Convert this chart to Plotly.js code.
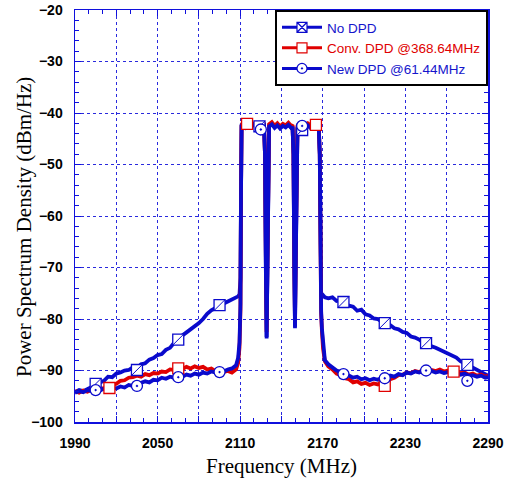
<!DOCTYPE html>
<html><head><meta charset="utf-8">
<script src="https://cdn.plot.ly/plotly-3.0.1.min.js"></script>
<style>html,body{margin:0;padding:0;background:#fff}</style>
</head><body><div id="chart" style="width:508px;height:480px"></div>
<script>
const freq = [1990,1993,1996,1999,2002,2005,2008,2011,2014,2017,2020,2023,2026,2029,2032,2035,2038,2041,2044,2047,2050,2053,2056,2059,2062,2065,2068,2071,2074,2077,2080,2083,2086,2089,2092,2095,2098,2101,2104,2107,
  2108.5,2109.5,2110.2,2110.6,2111,
  2112,2114,2116,2118,2120,2122,2124,2126,2127.3,
  2128.0,2128.7,2129.2,2129.8,2130.4,
  2131,2133,2135,2137,2139,2141,2143,2145,2147,2148.0,
  2148.7,2149.3,2149.8,2150.4,2151.0,
  2151.6,2153,2155,2157,2159,2161,2163,2165,2167,
  2167.8,2168.3,2168.8,2169.4,2170.2,2171.5,
  2174,2177,2180,2183,2186,2189,2192,2195,2198,2201,2204,2207,2210,2213,2216,2219,2222,2225,2228,2231,2234,2237,2240,2243,2246,2249,2252,2255,2258,2261,2264,2267,2270,2273,2276,2279,2282,2285,2288,2290];

const psdNoDPD = [-94.2,-93.8,-94.0,-93.5,-93.2,-93.0,-92.3,-92.0,-91.2,-91.3,-90.6,-90.4,-90.0,-89.9,-89.4,-89.6,-88.8,-88.6,-87.9,-87.6,-87.0,-86.8,-86.0,-85.6,-84.6,-84.2,-83.2,-82.6,-82.0,-81.5,-80.8,-80.0,-79.0,-78.3,-77.8,-77.4,-77.0,-76.6,-76.2,-75.8,
  -75.6,-75.2,-72,-55,-42.3,
  -42.0,-42.6,-41.8,-42.4,-42.1,-42.8,-42.3,-42.7,-42.5,
  -48,-72,-83.5,-70,-47,
  -42.4,-42.0,-42.7,-42.2,-42.9,-42.3,-42.6,-42.1,-42.8,-42.5,
  -48,-70,-81.5,-68,-47,
  -42.8,-42.3,-43.0,-42.5,-42.2,-42.7,-42.4,-42.6,-42.3,
  -48,-74.5,-75.3,-75.6,-75.4,-75.8,
  -76.0,-75.8,-76.5,-76.3,-77.0,-77.4,-77.6,-78.4,-78.2,-79.1,-79.3,-79.9,-80.0,-80.6,-80.9,-81.2,-81.8,-82.0,-82.5,-82.7,-83.4,-83.6,-84.0,-84.6,-84.5,-85.3,-85.6,-86.0,-86.4,-86.8,-87.3,-87.5,-88.2,-88.6,-89.0,-89.5,-89.8,-90.3,-90.6,-91.0];

const psdConvDPD = [-94.0,-94.3,-93.9,-94.1,-93.7,-93.8,-93.4,-93.5,-93.1,-92.8,-92.6,-92.0,-91.9,-91.4,-91.3,-91.0,-91.2,-90.7,-90.9,-90.5,-90.6,-90.2,-90.3,-89.8,-89.9,-89.5,-89.7,-89.3,-89.6,-89.2,-89.5,-89.3,-89.8,-89.6,-90.1,-89.8,-90.3,-90.1,-90.4,-89.8,
  -88.5,-85.5,-78,-55,-42.5,
  -41.8,-42.3,-42.0,-42.5,-42.2,-42.6,-42.0,-42.4,-42.3,
  -48,-70,-82.5,-68,-47,
  -42.2,-41.8,-42.5,-42.0,-42.6,-42.1,-42.4,-41.9,-42.5,-42.3,
  -48,-68,-80.5,-66,-47,
  -42.5,-42.1,-42.7,-42.3,-42.0,-42.4,-42.1,-42.3,-41.9,
  -48,-73,-79,-82.5,-85.8,-88.2,
  -89.2,-89.8,-90.6,-90.9,-91.5,-91.7,-92.3,-92.1,-92.6,-92.4,-92.8,-92.5,-92.7,-92.3,-92.2,-91.7,-91.4,-90.9,-90.8,-90.4,-90.5,-90.1,-90.3,-89.9,-90.2,-89.9,-90.1,-89.8,-90.2,-90.0,-90.3,-90.1,-90.5,-90.4,-90.8,-90.6,-91.0,-90.8,-91.2,-91.0];

const psdNewDPD = [-94.3,-94.0,-94.2,-93.8,-94.0,-93.6,-93.9,-93.5,-93.7,-93.3,-93.5,-93.1,-93.3,-92.8,-93.0,-92.6,-92.4,-92.1,-92.3,-91.8,-91.9,-91.4,-91.6,-91.2,-91.4,-91.0,-91.2,-90.8,-91.0,-90.6,-90.8,-90.4,-90.6,-90.2,-90.4,-90.0,-90.2,-89.8,-89.6,-89.0,
  -87.5,-84.5,-77,-55,-42.5,
  -42.2,-42.8,-42.1,-42.6,-42.3,-42.9,-42.4,-42.8,-42.6,
  -48,-72,-83.8,-70,-47,
  -42.6,-42.2,-42.9,-42.4,-43.0,-42.5,-42.8,-42.3,-42.9,-42.7,
  -48,-70,-81.8,-68,-47,
  -43.0,-42.5,-43.2,-42.7,-42.4,-42.9,-42.6,-42.8,-42.5,
  -48,-73,-78.5,-82,-85.4,-88.0,
  -88.8,-89.5,-90.0,-90.3,-90.8,-91.0,-91.4,-91.2,-91.7,-91.5,-91.9,-91.6,-91.8,-91.4,-91.5,-91.0,-91.2,-90.7,-90.9,-90.4,-90.6,-90.2,-90.4,-90.0,-90.3,-90.1,-90.4,-90.2,-90.5,-90.3,-90.6,-90.4,-90.8,-90.6,-91.0,-90.9,-91.2,-91.0,-91.4,-91.3];

// marker positions
const mkFreqNoDPD = [2005,2035,2065,2095,2124,2155,2185,2215,2245,2275];
const mkNoDPD     = [-92.6,-89.9,-84.0,-77.3,-42.6,-43.3,-76.7,-80.8,-84.7,-88.9];
const mkFreqConv  = [2015,2065,2115,2165,2215,2265];
const mkConv      = [-93.4,-89.6,-42.1,-42.3,-93.0,-90.2];
const mkFreqNew   = [2005,2035,2065,2095,2125,2155,2185,2215,2245,2275];
const mkNew       = [-93.8,-93.0,-91.3,-90.3,-43.2,-42.5,-90.7,-91.5,-90.0,-92.0];

const names = ['No DPD','<span style="color:#E00000">Conv. DPD @368.64MHz</span>','New DPD @61.44MHz'];
const xTicks = [1990,2020,2050,2080,2110,2140,2170,2200,2230,2260,2290];
const xTickText = ['1990','','2050','','2110','','2170','','2230','','2290'];
const yTitle = 'Power Spectrum Density (dBm/Hz)';
const xTitle = 'Frequency (MHz)';

const BLUE = '#0A0ACC', RED = '#E00000';

const traces = [
  {x: freq, y: psdNoDPD, mode:'lines', line:{color:BLUE, width:3.8}, showlegend:false, hoverinfo:'skip'},
  {x: freq, y: psdConvDPD, mode:'lines', line:{color:RED, width:3.8}, showlegend:false, hoverinfo:'skip'},
  {x: freq, y: psdNewDPD, mode:'lines', line:{color:BLUE, width:3.8}, showlegend:false, hoverinfo:'skip'},
  {x: mkFreqNoDPD, y: mkNoDPD, mode:'markers', showlegend:false,
   marker:{symbol:'square', size:11, color:'#fff', line:{color:BLUE, width:1.3}}},
  {x: mkFreqNoDPD, y: mkNoDPD, mode:'markers', showlegend:false,
   marker:{symbol:'line-ne', size:11, color:BLUE, line:{color:BLUE, width:1}}},
  {x: mkFreqConv, y: mkConv, mode:'markers', showlegend:false,
   marker:{symbol:'square', size:11, color:'#fff', line:{color:RED, width:1.3}}},
  {x: mkFreqNew, y: mkNew, mode:'markers', showlegend:false,
   marker:{symbol:'circle-dot', size:11, color:'#fff', line:{color:BLUE, width:1.3}}},
  // legend entries
  {x:[null], y:[null], name:names[0], mode:'lines+markers', line:{color:BLUE, width:3},
   marker:{symbol:'square-x', size:10, color:'#fff', line:{color:BLUE, width:1.2}}},
  {x:[null], y:[null], name:names[1], mode:'lines+markers', line:{color:RED, width:3},
   marker:{symbol:'square', size:10, color:'#fff', line:{color:RED, width:1.2}}},
  {x:[null], y:[null], name:names[2], mode:'lines+markers', line:{color:BLUE, width:3},
   marker:{symbol:'circle-dot', size:10, color:'#fff', line:{color:BLUE, width:1.2}}}
];

const axisCommon = {
  showline:true, linecolor:'#1010DD', linewidth:1.5, mirror:'ticks',
  ticks:'inside', ticklen:6, tickcolor:'#1010DD', tickwidth:1,
  showgrid:true, gridcolor:'#2a2add', gridwidth:1, griddash:'dot',
  zeroline:false,
  tickfont:{family:'Liberation Sans, Arial, sans-serif', size:14, color:'#000', weight:'bold'}
};

const layout = {
  width:508, height:480,
  margin:{l:75, r:20, t:10, b:58},
  paper_bgcolor:'#fff', plot_bgcolor:'#fff',
  xaxis: Object.assign({}, axisCommon, {
    range:[1990,2290], tickmode:'array', tickvals:xTicks, ticktext:xTickText,
    ticklabelstandoff:8,
    minor:{tickmode:'linear', tick0:1990, dtick:10, ticks:'inside', ticklen:4, tickcolor:'#1010DD', showgrid:false},
    title:{text:xTitle, font:{family:'Liberation Serif, Times New Roman, serif', size:21, color:'#000'}, standoff:8}
  }),
  yaxis: Object.assign({}, axisCommon, {
    range:[-100,-20], tickmode:'linear', tick0:-100, dtick:10,
    ticklabelstandoff:8,
    minor:{tickmode:'linear', tick0:-100, dtick:2, ticks:'inside', ticklen:4, tickcolor:'#1010DD', showgrid:false}
  }),
  annotations:[{text:yTitle, textangle:-90, xref:'paper', yref:'paper', x:0, y:0.5,
    xanchor:'center', yanchor:'middle', xshift:-51, yshift:-11, showarrow:false,
    font:{family:'Liberation Serif, Times New Roman, serif', size:21, color:'#000'}}],
  legend:{x:1, xanchor:'right', y:1, yanchor:'top', bgcolor:'#fff', bordercolor:'#000', borderwidth:2,
    font:{family:'Liberation Sans, Arial, sans-serif', size:13.5, color:'#1515CC'}, tracegroupgap:0, itemwidth:40},
  showlegend:true
};

Plotly.newPlot('chart', traces, layout, {displayModeBar:false, staticPlot:true});
</script></body></html>
